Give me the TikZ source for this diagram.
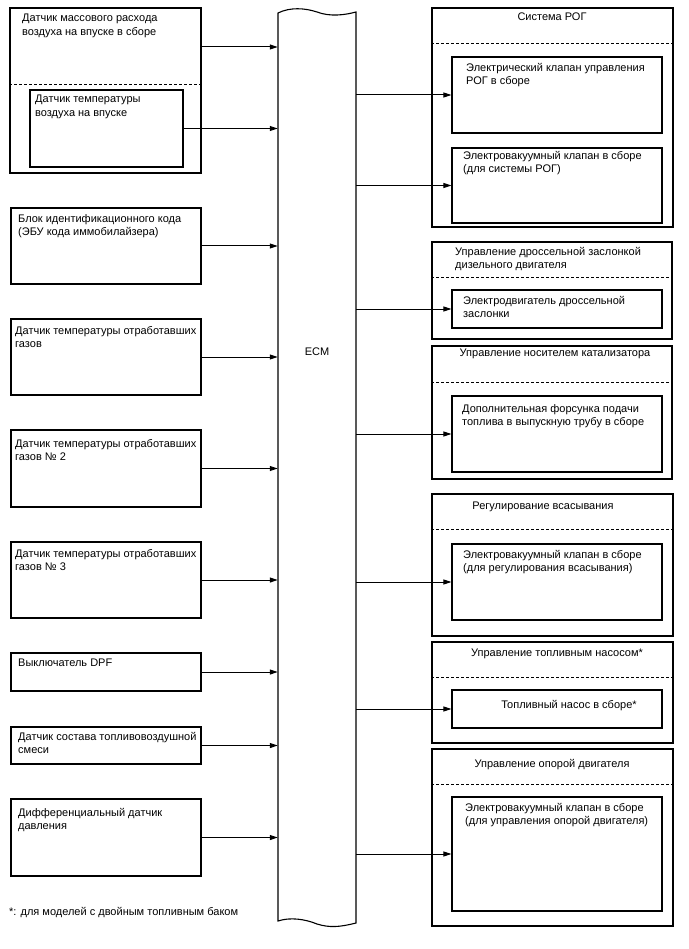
\documentclass[tikz,border=0pt]{standalone}
\usepackage{fontspec}
\setmainfont{Liberation Sans}
\usetikzlibrary{arrows.meta, fit, positioning}

\begin{document}
\begin{tikzpicture}[
    x=1pt, y=-1pt,
    box/.style={draw, line width=1.1pt, inner sep=0pt},
    txt/.style={font=\fontsize{11}{13.5}\selectfont, align=left, inner sep=0pt, anchor=north west},
    ttl/.style={font=\fontsize{11}{13.5}\selectfont, align=center, inner sep=0pt, anchor=north},
    sep/.style={line width=0.9pt, dash pattern=on 3pt off 2pt},
    arr/.style={-{Triangle[length=8pt, width=5pt]}, line width=1pt}
  ]
  \useasboundingbox (0,0) rectangle (688,949);

  % ECM bus
  \node[fit={(278,13)(356,922)}, inner sep=0pt] (ecm) {};
  \draw[line width=1.1pt] (278,13) .. controls (290,7) and (305,8) .. (317,12)
    .. controls (330,17) and (345,15) .. (356,12) -- (356,923)
    .. controls (340,927) and (330,928) .. (317,924)
    .. controls (305,919) and (290,917) .. (278,921) -- cycle;
  \node[ttl, anchor=center] (ecmlbl) at (317,352) {ECM};

  % inputs
  \node[box, fit={(10,8)(201,173)}] (maf) {};
  \draw[sep] (maf.west |- 0,84) -- (maf.east |- 0,84);
  \node[box, fit={(30,90)(183,167)}] (iat) {};
  \node[box, fit={(11,208)(201,284)}] (imm) {};
  \node[box, fit={(11,319)(201,395)}] (egt1) {};
  \node[box, fit={(11,430)(201,507)}] (egt2) {};
  \node[box, fit={(11,542)(201,618)}] (egt3) {};
  \node[box, fit={(11,653)(201,691)}] (dpf) {};
  \node[box, fit={(11,727)(201,764)}] (afs) {};
  \node[box, fit={(11,799)(201,876)}] (dps) {};

  \node[txt] (maflbl) at (22,14) {Датчик массового расхода\\воздуха на впуске в сборе};
  \node[txt] (iatlbl) at (35,95) {Датчик температуры\\воздуха на впуске};
  \node[txt] (immlbl) at (18,214) {Блок идентификационного кода\\(ЭБУ кода иммобилайзера)};
  \node[txt] (egt1lbl) at (15,326) {Датчик температуры отработавших\\газов};
  \node[txt] (egt2lbl) at (15,439) {Датчик температуры отработавших\\газов № 2};
  \node[txt] (egt3lbl) at (15,549) {Датчик температуры отработавших\\газов № 3};
  \node[txt] (dpflbl) at (18,659) {Выключатель DPF};
  \node[txt] (afslbl) at (18,732) {Датчик состава топливовоздушной\\смеси};
  \node[txt] (dpslbl) at (18,808) {Дифференциальный датчик\\давления};
  \node[txt] (note) at (9,907) {*: для моделей с двойным топливным баком};

  \coordinate (mafout) at (201,47);
  \draw[arr] (mafout) -- (mafout -| ecm.west);
  \foreach \n in {iat, imm, egt1, egt2, egt3, dpf, afs, dps}
    \draw[arr] (\n) -- (\n -| ecm.west);

  % outputs
  \node[box, fit={(432,8)(673,227)}] (egr) {};
  \draw[sep] (egr.west |- 0,43) -- (egr.east |- 0,43);
  \node[box, fit={(452,57)(662,133)}] (egrv) {};
  \node[box, fit={(452,148)(662,223)}] (egrvsv) {};
  \node[box, fit={(432,242)(672,339)}] (thr) {};
  \draw[sep] (thr.west |- 0,277) -- (thr.east |- 0,277);
  \node[box, fit={(452,290)(662,328)}] (thrm) {};
  \node[box, fit={(432,346)(672,479)}] (cat) {};
  \draw[sep] (cat.west |- 0,382) -- (cat.east |- 0,382);
  \node[box, fit={(452,396)(662,472)}] (catinj) {};
  \node[box, fit={(432,494)(673,636)}] (suc) {};
  \draw[sep] (suc.west |- 0,529) -- (suc.east |- 0,529);
  \node[box, fit={(452,544)(662,620)}] (sucvsv) {};
  \node[box, fit={(432,642)(673,743)}] (pmp) {};
  \draw[sep] (pmp.west |- 0,677) -- (pmp.east |- 0,677);
  \node[box, fit={(452,690)(662,728)}] (pmpa) {};
  \node[box, fit={(432,749)(673,926)}] (mnt) {};
  \draw[sep] (mnt.west |- 0,784) -- (mnt.east |- 0,784);
  \node[box, fit={(452,797)(662,911)}] (mntvsv) {};

  \node[ttl] (egrlbl) at (552,13) {Система РОГ};
  \node[txt] (egrvlbl) at (466,63) {Электрический клапан управления\\РОГ в сборе};
  \node[txt] (egrvsvlbl) at (463,151) {Электровакуумный клапан в сборе\\(для системы РОГ)};
  \node[txt] (thrlbl) at (455,247) {Управление дроссельной заслонкой\\дизельного двигателя};
  \node[txt] (thrmlbl) at (463,296) {Электродвигатель дроссельной\\заслонки};
  \node[ttl] (catlbl) at (555,349) {Управление носителем катализатора};
  \node[txt] (catinjlbl) at (462,404) {Дополнительная форсунка подачи\\топлива в выпускную трубу в сборе};
  \node[ttl] (suclbl) at (543,502) {Регулирование всасывания};
  \node[txt] (sucvsvlbl) at (463,550) {Электровакуумный клапан в сборе\\(для регулирования всасывания)};
  \node[ttl] (pmplbl) at (557,649) {Управление топливным насосом*};
  \node[ttl] (pmpalbl) at (569,700) {Топливный насос в сборе*};
  \node[ttl] (mntlbl) at (552,759) {Управление опорой двигателя};
  \node[txt] (mntvsvlbl) at (465,803) {Электровакуумный клапан в сборе\\(для управления опорой двигателя)};

  \foreach \n in {egrv, egrvsv, thrm, catinj, sucvsv, pmpa, mntvsv}
    \draw[arr] (\n -| ecm.east) -- (\n);
\end{tikzpicture}
\end{document}
